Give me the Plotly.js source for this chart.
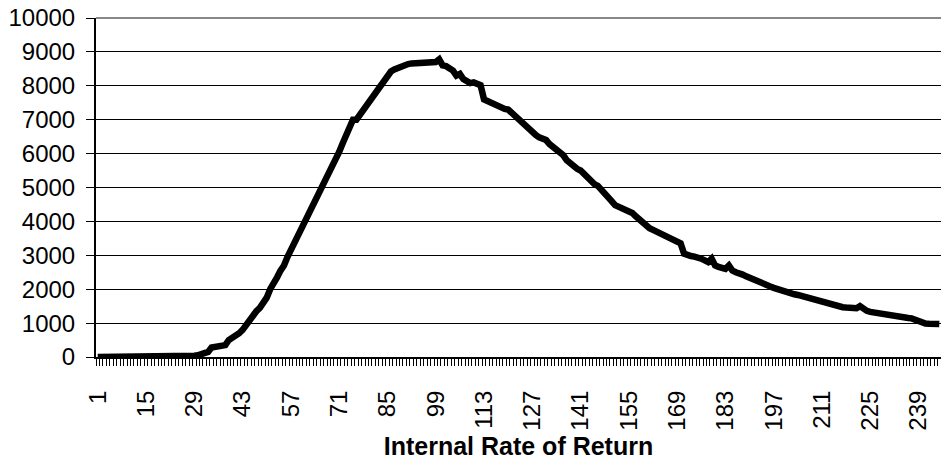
<!DOCTYPE html>
<html>
<head>
<meta charset="utf-8">
<script src="https://cdn.plot.ly/plotly-3.0.1.min.js"></script>
<style>
html,body{margin:0;padding:0;background:#fff;}
#chart{width:941px;height:460px;}
</style>
</head>
<body>
<div id="chart"></div>
<script>
// Frequency counts per Internal Rate of Return category
const irrCounts = [
  0,0,0,0,0,0,0,0,0,0,0,0,0,0,0,0,0,0,0,0,0,0,0,0,
  10,15,20,30,40,50,70,100,150,280,300,310,320,350,
  500,550,600,700,800,950,1050,1200,1350,1450,1600,1750,
  2000,2150,2350,2550,2700,2950,3150,3350,3550,3800,
  3980,4200,4400,4600,4800,5000,5200,5450,5600,5850,
  6050,6300,6550,6850,7000,7000,7150,7300,7450,7600,
  7750,7900,8050,8200,8350,8420,8480,8530,8570,8600,
  8640,8660,8670,8670,8670,8670,8670,8680,8700,8780,
  8600,8580,8500,8450,8300,8350,8200,8150,8080,8100,
  8050,8020,7600,7550,7480,7420,7380,7360,7320,7300,
  7200,7100,7000,6950,6850,6700,6620,6550,6480,6450,
  6400,6280,6200,6100,6020,5950,5800,5700,5620,5550,
  5500,5400,5300,5180,5100,5050,4950,4800,4720,4600,
  4480,4430,4400,4380,4300,4250,4150,4050,3950,3850,
  3800,3750,3700,3660,3600,3550,3480,3420,3380,3350,
  3050,3000,2980,2960,2950,2900,2850,2800,2900,2700,
  2660,2640,2600,2700,2550,2500,2480,2430,2380,2330,
  2280,2240,2210,2170,2130,2080,2040,2000,1980,1950,
  1920,1880,1850,1830,1800,1780,1750,1720,1680,1640,
  1620,1590,1560,1530,1500,1480,1470,1460,1450,1450,
  1440,1500,1400,1360,1330,1310,1300,1280,1260,1240,
  1220,1200,1180,1170,1150,1150,1140,1100,1040,1000,
  990,980,970,970,970
];
// Category numbers 1..N
const categories = irrCounts.map((_, i) => i + 1);
const xTickLabels = [1,15,29,43,57,71,85,99,113,127,141,155,169,183,197,211,225,239];
const yTickValues = [0,1000,2000,3000,4000,5000,6000,7000,8000,9000,10000];
const xTitle = "Internal Rate of Return";

const FONT = "Liberation Sans, Arial, sans-serif";

const trace = {
  x: categories,
  y: irrCounts,
  type: "scatter",
  mode: "lines",
  line: {color: "#000000", width: 6.5},
  hoverinfo: "x+y"
};

const layout = {
  width: 941,
  height: 460,
  margin: {l: 96, r: 0, t: 18, b: 103, pad: 0},
  paper_bgcolor: "#ffffff",
  plot_bgcolor: "#ffffff",
  showlegend: false,
  font: {family: FONT, size: 24, color: "#000"},
  xaxis: {
    range: [0.5, categories.length + 0.5],
    tickmode: "array",
    tickvals: xTickLabels,
    ticktext: xTickLabels.map(String),
    tickangle: -90,
    ticks: "",
    ticklabelstandoff: 22,
    tickfont: {family: FONT, size: 24, color: "#000"},
    minor: {tick0: 0.5, dtick: 1, ticks: "outside", ticklen: 7, tickcolor: "#000", tickwidth: 1, showgrid: false},
    showgrid: false,
    zeroline: false,
    showline: true,
    linecolor: "#000",
    linewidth: 2,
    title: {text: xTitle, font: {family: FONT, size: 25, color: "#000", weight: "bold"}, standoff: 14},
    fixedrange: true
  },
  yaxis: {
    range: [0, 10000],
    tickmode: "array",
    tickvals: yTickValues,
    ticktext: yTickValues.map(String),
    ticks: "outside",
    ticklen: 8,
    tickcolor: "#000",
    ticklabelstandoff: 6,
    tickfont: {family: FONT, size: 24, color: "#000"},
    showgrid: true,
    gridcolor: "#000",
    gridwidth: 1,
    zeroline: false,
    showline: true,
    linecolor: "#000",
    linewidth: 2,
    fixedrange: true
  },
  shapes: [
    {type: "line", xref: "paper", yref: "paper", x0: 0, x1: 1, y0: 1, y1: 1, line: {color: "#888", width: 2}}
  ]
};

Plotly.newPlot("chart", [trace], layout, {displayModeBar: false, staticPlot: true});
</script>
</body>
</html>
